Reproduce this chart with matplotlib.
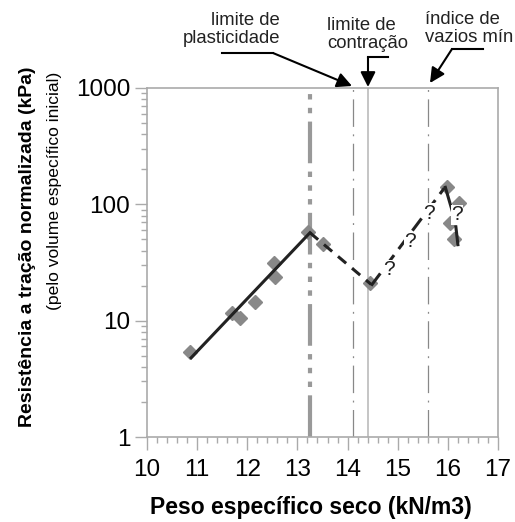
import matplotlib
matplotlib.use('Agg')
import matplotlib.pyplot as plt
from matplotlib.ticker import FixedLocator, LogLocator, NullFormatter
from matplotlib.lines import Line2D
from matplotlib.patches import FancyArrowPatch

plt.rcParams['font.family'] = ['Liberation Sans', 'DejaVu Sans']

# measured points
peso = [10.86, 11.70, 11.85, 12.15, 12.53, 12.55, 13.21, 13.51, 14.45, 15.98, 16.22, 16.04, 16.12]
resist = [5.4, 11.6, 10.5, 14.5, 31.3, 23.8, 57.9, 45.6, 21.1, 141, 103, 69, 50]

# trend lines
fit_x = [10.88, 13.25]
fit_y = [4.8, 57.0]
drop_x = [13.25, 14.47]
drop_y = [57.0, 20.5]
rise_x = [14.47, 15.93]
rise_y = [20.0, 138]
end1_x = [15.95, 16.10]
end1_y = [140, 84]
end2_x = [16.16, 16.20]
end2_y = [64, 45]

# question marks along uncertain branch
q_x = [14.83, 15.25, 15.62, 16.18]
q_y = [27.3, 47.5, 84, 81]

# reference limits
lim_plast = 13.25
lim_plast2 = 14.1
lim_contr = 14.4
e_min = 15.6

W, H = 515, 522
fig = plt.figure(figsize=(W / 100, H / 100), dpi=100)
ax = fig.add_axes([147 / W, 1 - 437 / H, (498 - 147) / W, (437 - 88) / H])

ax.set_yscale('log')
ax.set_xlim(10, 17)
ax.set_ylim(1, 1000)

# vertical reference lines
ax.axvline(lim_plast, color='#999999', lw=3, dashes=(10, 2, 1.3, 2, 1.3, 2, 1.3, 2), zorder=1)
ax.axvline(lim_plast2, color='#888888', lw=0.9, dashes=(22, 6, 1.5, 6), zorder=1)
ax.axvline(lim_contr, color='#bbbbbb', lw=1.2, zorder=1)
ax.axvline(e_min, color='#888888', lw=0.9, dashes=(22, 6, 1.5, 6), zorder=1)

ax.plot(fit_x, fit_y, color='#222222', lw=2.2, zorder=3)
ax.plot(drop_x, drop_y, color='#222222', lw=2.2, dashes=(3.5, 2.5), zorder=3)
ax.plot(rise_x, rise_y, color='#222222', lw=2.2, dashes=(5, 2.5), zorder=3)
ax.plot(end1_x, end1_y, color='#222222', lw=2.2, zorder=3)
ax.plot(end2_x, end2_y, color='#222222', lw=2.2, zorder=3)

ax.plot(peso, resist, ls='none', marker='D', ms=7, color='#888888', mec='#888888', zorder=2)

for x, y in zip(q_x, q_y):
    ax.text(x, y, '?', ha='center', va='center', fontsize=15, color='#222222', zorder=4,
            bbox=dict(facecolor='white', edgecolor='none', pad=0.2))

ax.xaxis.set_major_locator(FixedLocator(range(10, 18)))
ax.xaxis.set_minor_locator(FixedLocator([10 + i * 0.2 for i in range(36) if i % 5]))
ax.yaxis.set_minor_locator(LogLocator(base=10, subs=range(2, 10), numticks=20))
ax.yaxis.set_minor_formatter(NullFormatter())
ax.set_yticks([1, 10, 100, 1000])
ax.set_yticklabels(['1', '10', '100', '1000'])

for s in ax.spines.values():
    s.set_color('#aaaaaa')
    s.set_linewidth(1.2)
ax.tick_params(which='major', length=9, width=1, color='#aaaaaa', labelsize=17.5, pad=3)
ax.tick_params(axis='x', which='major', pad=7)
ax.tick_params(which='minor', length=4, width=1, color='#aaaaaa')

ax.set_xlabel('Peso específico seco (kN/m3)', fontsize=16.5, fontweight='bold')
ax.xaxis.set_label_coords(0.467, -0.168)

fig.text(28 / W, 1 - 247 / H, 'Resistência a tração normalizada (kPa)', rotation=90,
         ha='center', va='center', fontsize=14, fontweight='bold')
fig.text(55 / W, 1 - 72 / H, '(pelo volume específico inicial)', rotation=90,
         ha='center', va='top', fontsize=12.6)

# annotation texts
fig.text(280 / W, 1 - 12 / H, 'limite de\nplasticidade', ha='right', va='top',
         fontsize=13.3, multialignment='right', linespacing=1.05, color='#222222')
fig.text(327 / W, 1 - 17 / H, 'limite de\ncontração', ha='left', va='top',
         fontsize=13.3, linespacing=1.05, color='#222222')
fig.text(425 / W, 1 - 11 / H, 'índice de\nvazios mín', ha='left', va='top',
         fontsize=13.3, linespacing=1.05, color='#222222')


def fpx(x, y):
    return (x / W, 1 - y / H)


arrow_paths = [
    [(222, 53), (273, 53), (352, 86)],
    [(388, 57), (368, 57), (368, 87)],
    [(483, 49), (452, 49), (430, 83)],
]
for pts in arrow_paths:
    (x0, y0), (x1, y1), (x2, y2) = pts
    fig.add_artist(Line2D([x0 / W, x1 / W], [1 - y0 / H, 1 - y1 / H],
                          transform=fig.transFigure, color='black', lw=1.5))
    fig.add_artist(FancyArrowPatch(
        fpx(x1, y1), fpx(x2, y2), transform=fig.transFigure,
        arrowstyle='-|>,head_length=6,head_width=3', mutation_scale=1.5,
        color='black', lw=1.5, shrinkA=0, shrinkB=0))

fig.savefig('out.png', dpi=100)
